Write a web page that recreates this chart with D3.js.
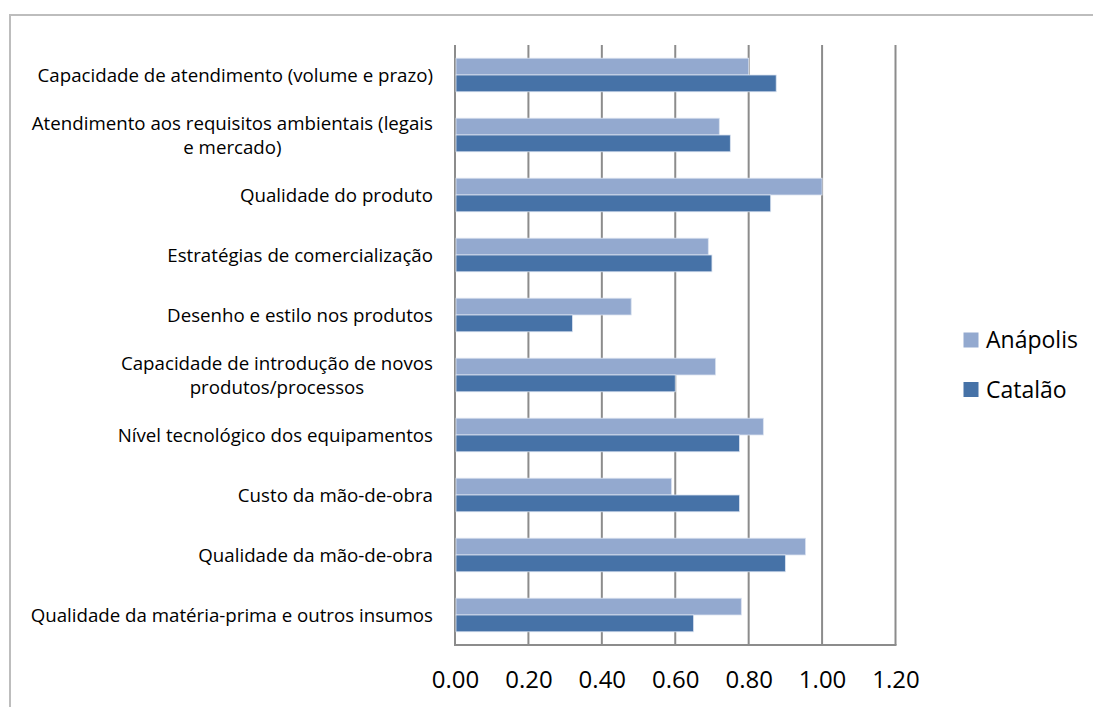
<!DOCTYPE html>
<html><head><meta charset="utf-8">
<script src="https://cdn.jsdelivr.net/npm/d3@7"></script>
<style>html,body{margin:0;padding:0;background:#fff;}svg{display:block;}</style>
</head><body>
<svg id="c" width="1093" height="707"></svg>
<script>
const categories = [
  ["Capacidade de atendimento (volume e prazo)"],
  ["Atendimento aos requisitos ambientais (legais", "e mercado)"],
  ["Qualidade do produto"],
  ["Estratégias de comercialização"],
  ["Desenho e estilo nos produtos"],
  ["Capacidade de introdução de novos", "produtos/processos"],
  ["Nível tecnológico dos equipamentos"],
  ["Custo da mão-de-obra"],
  ["Qualidade da mão-de-obra"],
  ["Qualidade da matéria-prima e outros insumos"]
];
const seriesNames = ["Anápolis", "Catalão"];
const anapolis = [0.80, 0.72, 1.00, 0.69, 0.48, 0.71, 0.84, 0.59, 0.955, 0.78];
const catalao  = [0.875, 0.75, 0.86, 0.70, 0.32, 0.60, 0.775, 0.775, 0.90, 0.65];
const xTicks = [0, 0.2, 0.4, 0.6, 0.8, 1.0, 1.2];
const colors = ["#93A9CF", "#4672A7"];

const svg = d3.select("#c");
const font = "'Open Sans', sans-serif";

// outer frame
svg.append("path").attr("d", "M10,707 L10,15 L1093,15")
  .attr("fill", "none").attr("stroke", "#bdbdbd").attr("stroke-width", 2);

const L = 455, R = 895.5, T = 45, B = 645;
const x = d3.scaleLinear().domain([0, 1.2]).range([L, R]);
const y = d3.scaleBand().domain(d3.range(categories.length)).range([T, B]).paddingInner(0.44).paddingOuter(0.22);
const y2 = d3.scaleBand().domain([0, 1]).range([0, y.bandwidth()]);

// gridlines
svg.append("g").selectAll("line").data(xTicks).join("line")
  .attr("x1", d => x(d)).attr("x2", d => x(d)).attr("y1", T).attr("y2", B)
  .attr("stroke", "#8c8c8c").attr("stroke-width", 2);
// bottom axis line
svg.append("line").attr("x1", L - 1).attr("x2", R + 1).attr("y1", B).attr("y2", B)
  .attr("stroke", "#8c8c8c").attr("stroke-width", 2);

const series = [anapolis, catalao];
series.forEach((vals, s) => {
  svg.append("g").selectAll("rect").data(vals).join("rect")
    .attr("x", x(0) + 1)
    .attr("y", (d, i) => y(i) + y2(s))
    .attr("width", d => x(d) - x(0) - 1)
    .attr("height", y2.bandwidth())
    .attr("fill", colors[s])
    .attr("stroke", "#dbe3f0").attr("stroke-width", 0.8);
});

// x axis tick labels
const xAxis = d3.axisBottom(x).tickValues(xTicks).tickFormat(d3.format(".2f")).tickSize(0).tickPadding(0);
const ga = svg.append("g").attr("transform", `translate(0,${B + 26})`).call(xAxis);
ga.select(".domain").remove();
ga.selectAll("text").attr("font-family", font).attr("font-size", 24).attr("fill", "#000").attr("dy", "0.71em");

// category labels: block right-aligned, lines centered
const labelRight = 433, lineH = 24, fs = 18.7;
categories.forEach((lines, i) => {
  const g = svg.append("g");
  const cy = y(i) + y.bandwidth() / 2;
  const texts = lines.map((t, k) => g.append("text").text(t)
    .attr("font-family", font).attr("font-size", fs).attr("fill", "#000")
    .attr("text-anchor", "middle")
    .attr("y", cy + (k - (lines.length - 1) / 2) * lineH).attr("dy", "0.35em"));
  const maxW = d3.max(texts, t => t.node().getComputedTextLength());
  texts.forEach(t => t.attr("x", labelRight - maxW / 2));
});

// legend
const lg = svg.append("g");
seriesNames.forEach((n, i) => {
  const cy = 340 + i * 49.5;
  lg.append("rect").attr("x", 963.5).attr("y", cy - 7.5).attr("width", 15).attr("height", 15).attr("fill", colors[i]);
  lg.append("text").attr("x", 986).attr("y", cy).attr("dy", "0.35em").text(n)
    .attr("font-family", font).attr("font-size", 23).attr("fill", "#000");
});
</script>
</body></html>
